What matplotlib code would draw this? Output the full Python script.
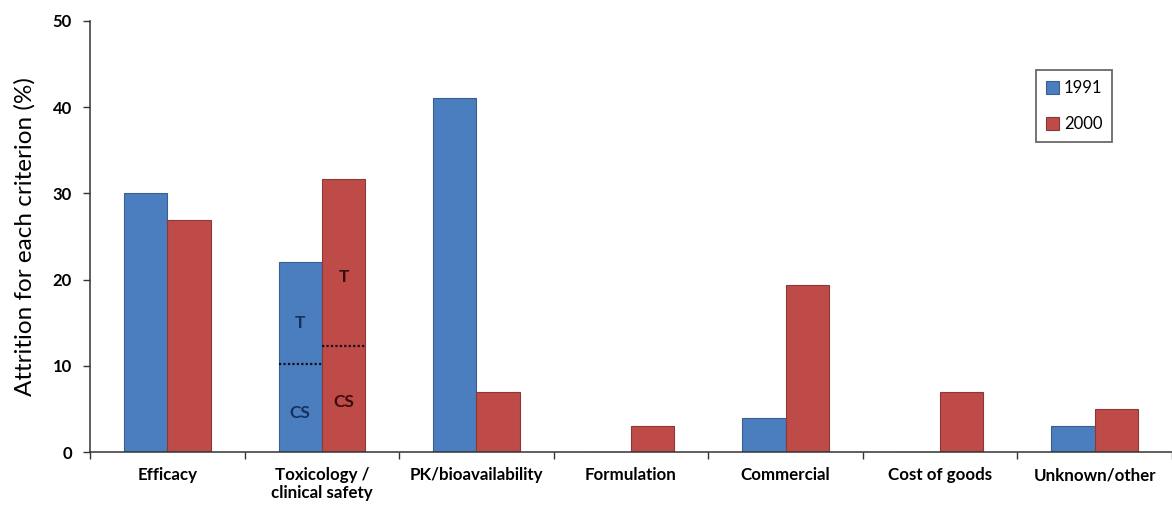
import matplotlib
matplotlib.use("Agg")
import matplotlib.pyplot as plt
import numpy as np

categories = ["Efficacy", "Toxicology /\nclinical safety", "PK/bioavailability",
              "Formulation", "Commercial", "Cost of goods", "Unknown/other"]
series_names = ["1991", "2000"]
values_1991 = [30.1, 22.0, 41.1, 0.0, 3.9, 0.0, 3.0]
values_2000 = [26.9, 31.7, 7.0, 3.0, 19.4, 7.0, 5.0]
# split of toxicology bars into clinical safety (CS, lower) and toxicology (T, upper)
cs_split = {"1991": 10.2, "2000": 12.3}
y_ticks = [0, 10, 20, 30, 40, 50]

plt.rcParams["font.family"] = ["Lato", "DejaVu Sans"]

fig = plt.figure(figsize=(11.72, 5.21), dpi=100)
ax = fig.add_axes([0.0768, 0.1324, 0.9232, 0.8273])

x = np.arange(len(categories))
w = 0.28
c1, e1 = "#4A7EBF", "#3A5F8E"
c2, e2 = "#BE4B48", "#8C3836"
ax.bar(x - w / 2, values_1991, w, color=c1, edgecolor=e1, linewidth=0.8, label=series_names[0])
ax.bar(x + w / 2, values_2000, w, color=c2, edgecolor=e2, linewidth=0.8, label=series_names[1])

# toxicology breakdown
ti = 1
for xs, key in [(x[ti] - w / 2, "1991"), (x[ti] + w / 2, "2000")]:
    ax.plot([xs - w / 2, xs + w / 2], [cs_split[key]] * 2, color="#111111",
            linestyle=(0, (1, 1)), linewidth=1.6)
ax.text(x[ti] - w / 2, 15.0, "T", ha="center", va="center", fontsize=12.5, fontweight="bold", color="#17315E")
ax.text(x[ti] - w / 2, 4.5, "CS", ha="center", va="center", fontsize=12.5, fontweight="bold", color="#17315E")
ax.text(x[ti] + w / 2, 20.3, "T", ha="center", va="center", fontsize=12.5, fontweight="bold", color="#3A0C0C")
ax.text(x[ti] + w / 2, 5.8, "CS", ha="center", va="center", fontsize=12.5, fontweight="bold", color="#3A0C0C")

ax.set_xlim(-0.5, len(categories) - 0.5)
ax.set_ylim(0, 50)
ax.set_yticks(y_ticks)
ax.set_yticklabels([str(t) for t in y_ticks], fontsize=12, fontweight="bold")
ax.set_xticks(x)
ax.set_xticklabels(categories, fontsize=12.2, fontweight="bold", va="top", linespacing=1.15)
ax.tick_params(axis="x", length=0, pad=11)
ax.set_xticks(np.arange(len(categories) + 1) - 0.5, minor=True)
ax.tick_params(axis="x", which="minor", length=5, width=1, color="#333333", direction="out")
ax.tick_params(axis="y", length=5, width=1, color="#333333", direction="out", pad=8)
ax.set_ylabel("Attrition for each criterion (%)", fontsize=17.5, labelpad=12)

for s in ["top", "right"]:
    ax.spines[s].set_visible(False)
for s in ["left", "bottom"]:
    ax.spines[s].set_color("#333333")
    ax.spines[s].set_linewidth(1.1)

leg = ax.legend(loc="upper left", bbox_to_anchor=(0.867, 0.905), fontsize=12, frameon=True,
                fancybox=False, edgecolor="#444444", handlelength=0.75, handleheight=0.75,
                labelspacing=1.2, handletextpad=0.3, borderpad=0.6)
leg.get_frame().set_linewidth(1.3)

fig.savefig("out.png", dpi=100, facecolor="white")
